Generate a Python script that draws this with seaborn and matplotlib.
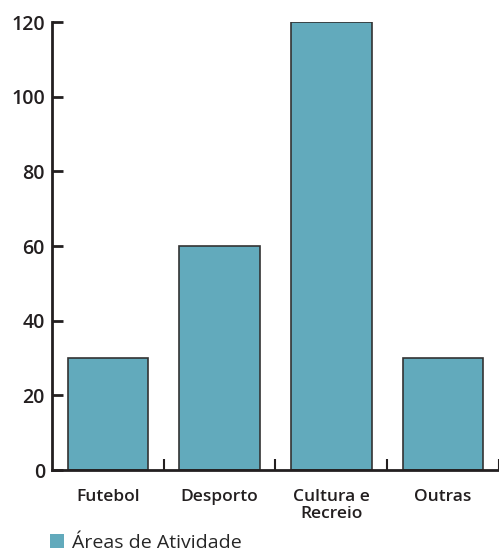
import numpy as np
import pandas as pd
import matplotlib
matplotlib.use("Agg")
import matplotlib.pyplot as plt
import seaborn as sns
from matplotlib.patches import Patch

# --- dados ---
categorias = ["Futebol", "Desporto", "Cultura e\nRecreio", "Outras"]
valores = [30, 60, 120, 30]
serie = "Áreas de Atividade"
y_ticks = [0, 20, 40, 60, 80, 100, 120]

COR_BARRA = "#62aabc"
COR_LINHA = "#231f20"

sns.set_style("white")
plt.rcParams['font.family'] = ['Open Sans', 'DejaVu Sans']

df = pd.DataFrame({"categoria": categorias, "valor": valores})

fig = plt.figure(figsize=(4.99, 5.53), dpi=100)
ax = fig.add_axes([0.104, 0.150, 0.896, 0.810])

sns.barplot(data=df, x="categoria", y="valor", color=COR_BARRA, width=0.72,
            edgecolor="#333333", linewidth=1.2, saturation=1, ax=ax)

ax.set_xlim(-0.5, len(categorias) - 0.5)
ax.set_ylim(0, 120)
ax.set_xlabel("")
ax.set_ylabel("")

for s in ["top", "right"]:
    ax.spines[s].set_visible(False)
for s in ["left", "bottom"]:
    ax.spines[s].set_color(COR_LINHA)
    ax.spines[s].set_linewidth(2)

# eixo y
ax.set_yticks(y_ticks)
ax.set_yticklabels([str(v) for v in y_ticks], fontsize=14, fontweight="semibold", color=COR_LINHA)
ax.tick_params(axis="y", left=True, direction="in", length=8, width=2, color=COR_LINHA, pad=5)

# eixo x: ticks entre categorias, rótulos no centro
pos = np.arange(len(categorias))
ax.set_xticks(pos + 0.5)
ax.set_xticklabels([])
ax.set_xticks(pos, minor=True)
ax.set_xticklabels(categorias, minor=True, fontsize=12.5, fontweight="semibold",
                   color=COR_LINHA, linespacing=1.05)
ax.tick_params(axis="x", which="major", bottom=True, direction="in", length=8, width=1.5, color=COR_LINHA)
ax.tick_params(axis="x", which="minor", bottom=True, length=0, pad=14)

# legenda
handle = Patch(facecolor=COR_BARRA, edgecolor="none", label=serie)
fig.legend(handles=[handle], loc="lower left", bbox_to_anchor=(0.065, -0.03),
           frameon=False, handlelength=0.7, handleheight=0.7,
           handletextpad=0.45, prop={"size": 14, "family": ["Open Sans", "DejaVu Sans"]})

fig.savefig("out.png", dpi=100)
